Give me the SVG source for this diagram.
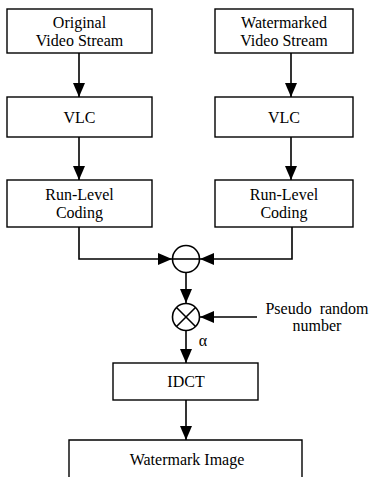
<svg xmlns="http://www.w3.org/2000/svg" width="374" height="477" viewBox="0 0 374 477">
<style>
.box{fill:#fff;stroke:#000;stroke-width:1.4}
.t{font-size:16px;fill:#000;text-anchor:middle}
.c{fill:none;stroke:#000;stroke-width:1.6}
.op{fill:#fff;stroke:#000;stroke-width:1.6}
</style>
<defs>
<marker id="ah" markerUnits="userSpaceOnUse" markerWidth="14" markerHeight="12" refX="14" refY="6" orient="auto" viewBox="0 0 14 12">
<path d="M0,0 L14,6 L0,12 z" fill="#000"/>
</marker>
</defs>
<rect width="374" height="477" fill="#fff"/>
<g id="connectors">
<path class="c" d="M79,53 V97" marker-end="url(#ah)"/>
<path class="c" d="M291,53 V97" marker-end="url(#ah)"/>
<path class="c" d="M79,137 V180" marker-end="url(#ah)"/>
<path class="c" d="M291,137 V180" marker-end="url(#ah)"/>
<path class="c" d="M79,227 V259 H172" marker-end="url(#ah)"/>
<path class="c" d="M292,227 V259 H200" marker-end="url(#ah)"/>
<path class="c" d="M186,273 V303" marker-end="url(#ah)"/>
<path class="c" d="M257,317 H200" marker-end="url(#ah)"/>
<path class="c" d="M186,331 V363" marker-end="url(#ah)"/>
<path class="c" d="M186,400 V440" marker-end="url(#ah)"/>
</g>
<g font-family="Liberation Serif, DejaVu Serif, serif">
<g id="orig">
<rect class="box" x="7" y="9" width="145" height="44"/>
<text class="t" x="79.5" y="28">Original</text>
<text class="t" x="79.5" y="46">Video Stream</text>
</g>
<g id="wm">
<rect class="box" x="215" y="9" width="138" height="44"/>
<text class="t" x="284" y="28">Watermarked</text>
<text class="t" x="284" y="46">Video Stream</text>
</g>
<g id="vlc1">
<rect class="box" x="7" y="97" width="145" height="40"/>
<text class="t" x="79.5" y="123">VLC</text>
</g>
<g id="vlc2">
<rect class="box" x="215" y="97" width="138" height="40"/>
<text class="t" x="284" y="123">VLC</text>
</g>
<g id="rl1">
<rect class="box" x="7" y="180" width="145" height="47"/>
<text class="t" x="79.5" y="200">Run-Level</text>
<text class="t" x="79.5" y="218">Coding</text>
</g>
<g id="rl2">
<rect class="box" x="215" y="180" width="138" height="47"/>
<text class="t" x="284" y="200">Run-Level</text>
<text class="t" x="284" y="218">Coding</text>
</g>
<g id="minus">
<circle class="op" cx="186" cy="259" r="13.5"/>
<line class="c" x1="172.5" y1="259" x2="199.5" y2="259"/>
</g>
<g id="times">
<circle class="op" cx="186" cy="317" r="13.5"/>
<line class="c" x1="176.5" y1="307.5" x2="195.5" y2="326.5"/>
<line class="c" x1="195.5" y1="307.5" x2="176.5" y2="326.5"/>
</g>
<g id="prn">
<text class="t" x="317" y="314" style="word-spacing:4px">Pseudo random</text>
<text class="t" x="317" y="331">number</text>
</g>
<text class="t" x="203" y="346">α</text>
<g id="idct">
<rect class="box" x="113" y="363" width="145" height="37"/>
<text class="t" x="186" y="387">IDCT</text>
</g>
<g id="wmimg">
<path class="box" d="M69,480 V440 H302 V480"/>
<text class="t" x="187" y="465">Watermark Image</text>
</g>
</g>
</svg>
